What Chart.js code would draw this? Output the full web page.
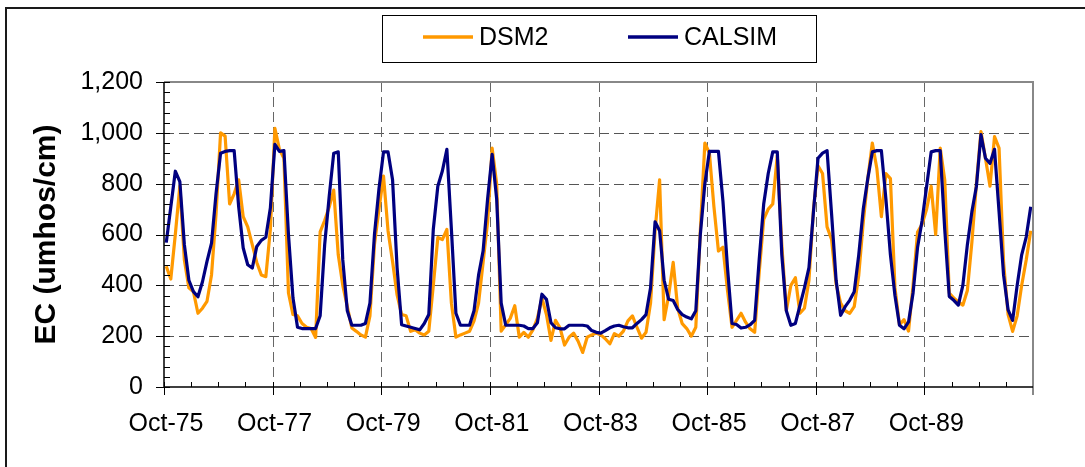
<!DOCTYPE html>
<html>
<head>
<meta charset="utf-8">
<script src="https://cdn.jsdelivr.net/npm/chart.js@4.4.1/dist/chart.umd.min.js"></script>
<style>
html,body{margin:0;padding:0;background:#fff;}
canvas{display:block;}
</style>
</head>
<body>
<canvas id="c" width="1085" height="467"></canvas>
<script>
// ---- data (monthly, Oct-75 .. Sep-91) ----
const tickLabels = ['Oct-75','Oct-77','Oct-79','Oct-81','Oct-83','Oct-85','Oct-87','Oct-89'];
const seriesNames = ['DSM2','CALSIM'];
const seriesColors = ['#FF9900','#000080'];
const yTickValues = [0,200,400,600,800,1000,1200];

const dsm2 = [
 475,425,600,790,500,390,375,290,310,337,441,681,
 1000,987,720,760,815,670,630,560,490,441,434,620,
 1018,935,900,370,285,280,250,235,230,195,610,655,
 708,775,520,400,316,232,219,205,196,280,560,700,
 830,615,494,362,285,280,219,225,212,205,219,400,
 588,580,620,330,196,205,212,219,260,330,490,650,
 940,800,220,245,270,320,196,215,196,225,270,350,
 285,183,262,233,165,196,212,180,136,196,205,212,
 205,190,170,210,200,220,260,280,235,192,215,330,
 615,815,265,360,490,310,249,230,200,235,615,960,
 920,710,535,550,380,235,262,290,255,229,215,450,
 660,700,720,910,560,300,400,430,290,310,420,700,
 870,840,630,580,405,330,300,290,316,440,650,820,
 960,860,670,840,820,390,245,265,220,400,610,640,
 700,790,600,940,815,370,350,335,322,380,570,800,
 1005,900,790,985,940,490,285,219,280,400,500,615
];
const calsim = [
 568,708,849,808,560,420,375,355,414,494,566,761,
 920,927,930,930,709,547,481,468,553,577,589,704,
 955,927,930,600,350,235,230,230,230,230,280,560,
 750,920,925,500,300,243,243,243,250,330,600,780,
 925,925,815,470,245,240,235,230,225,250,285,620,
 790,850,935,620,290,243,243,243,300,440,535,740,
 915,740,330,243,243,243,243,240,230,230,253,365,
 345,253,233,229,229,243,243,243,243,240,222,215,
 212,222,233,240,243,237,233,233,250,265,285,390,
 650,615,420,345,340,305,285,275,268,300,600,800,
 927,927,927,730,470,250,246,232,235,245,262,500,
 720,840,925,925,520,300,243,250,320,390,470,690,
 900,920,930,680,420,282,316,341,375,520,700,820,
 925,930,930,740,520,360,243,229,256,370,550,655,
 790,925,930,930,620,356,341,322,400,560,690,790,
 993,900,880,935,690,440,303,262,400,520,590,709
];

const FONT = "'Liberation Sans', Arial, Helvetica, sans-serif";
const nMonths = dsm2.length;
// each monthly value sits in the middle of its month slot
const toPoints = arr => arr.map((v, i) => ({x: i + 0.5, y: v}));

const decor = {
  id: 'decor',
  beforeDraw(chart) {
    const ctx = chart.ctx;
    ctx.save();
    ctx.fillStyle = '#fff';
    ctx.fillRect(0, 0, chart.width, chart.height);
    ctx.strokeStyle = '#1a1a1a';
    ctx.lineWidth = 2;
    ctx.beginPath();
    ctx.moveTo(6, chart.height);
    ctx.lineTo(6, 8);
    ctx.lineTo(chart.width, 8);
    ctx.stroke();
    ctx.restore();
  },
  beforeDatasetsDraw(chart) {
    const {ctx, chartArea: a, scales: {x, y}} = chart;
    ctx.save();
    ctx.lineWidth = 1;
    ctx.setLineDash([10, 5]);
    ctx.strokeStyle = '#555';
    yTickValues.forEach(v => {
      if (v === 0 || v === 1200) return;
      const py = Math.round(y.getPixelForValue(v)) + 0.5;
      ctx.beginPath(); ctx.moveTo(a.left, py); ctx.lineTo(a.right, py); ctx.stroke();
    });
    ctx.strokeStyle = '#666';
    for (let m = 24; m < nMonths; m += 24) {
      const px = Math.round(x.getPixelForValue(m)) + 0.5;
      ctx.beginPath(); ctx.moveTo(px, a.top); ctx.lineTo(px, a.bottom); ctx.stroke();
    }
    ctx.restore();
  },
  afterDatasetsDraw(chart) {
    const {ctx, chartArea: a, scales: {x, y}} = chart;
    ctx.save();
    // top / right frame of plot area
    ctx.strokeStyle = '#888';
    ctx.lineWidth = 2;
    ctx.beginPath();
    ctx.moveTo(a.left, a.top); ctx.lineTo(a.right, a.top); ctx.lineTo(a.right, a.bottom + 8);
    ctx.stroke();
    // axes
    ctx.strokeStyle = '#000';
    ctx.lineWidth = 1.5;
    ctx.beginPath();
    ctx.moveTo(a.left, a.top); ctx.lineTo(a.left, a.bottom); ctx.lineTo(a.right, a.bottom);
    ctx.stroke();
    ctx.lineWidth = 1;
    // y ticks: minor every 40 inside, major every 200 crossing
    for (let v = 0; v <= 1200; v += 40) {
      const py = Math.round(y.getPixelForValue(v)) + 0.5;
      const major = v % 200 === 0;
      ctx.beginPath();
      ctx.moveTo(a.left - (major ? 8 : 0), py); ctx.lineTo(a.left + 6, py);
      ctx.stroke();
    }
    // x ticks: minor every 6 months inside, major every 24 crossing
    for (let m = 0; m <= nMonths; m += 6) {
      const px = Math.round(x.getPixelForValue(m)) + 0.5;
      const major = m % 24 === 0;
      ctx.strokeStyle = (m === nMonths) ? '#888' : '#000';
      ctx.beginPath();
      ctx.moveTo(px, a.bottom - 5); ctx.lineTo(px, a.bottom + (major ? 8 : 0));
      ctx.stroke();
    }
    ctx.restore();
  },
  afterDraw(chart) {
    const {ctx, chartArea: a} = chart;
    ctx.save();
    // y axis title
    ctx.fillStyle = '#000';
    ctx.font = 'bold 30px ' + FONT;
    ctx.textAlign = 'center';
    ctx.textBaseline = 'middle';
    ctx.translate(47, (a.top + a.bottom) / 2);
    ctx.rotate(-Math.PI / 2);
    ctx.fillText('EC (umhos/cm)', 0, 0);
    ctx.restore();
    // legend
    ctx.save();
    ctx.strokeStyle = '#000';
    ctx.lineWidth = 1;
    ctx.strokeRect(382.5, 15.5, 434, 47);
    ctx.font = '25px ' + FONT;
    ctx.textBaseline = 'middle';
    ctx.fillStyle = '#000';
    const items = [{x: 423}, {x: 628}];
    chart.data.datasets.forEach((ds, i) => {
      const lx = items[i].x;
      ctx.strokeStyle = ds.borderColor;
      ctx.lineWidth = 3.5;
      ctx.beginPath(); ctx.moveTo(lx, 37); ctx.lineTo(lx + 50, 37); ctx.stroke();
      ctx.fillText(ds.label, lx + 56, 38);
    });
    ctx.restore();
  }
};

new Chart(document.getElementById('c'), {
  type: 'line',
  data: {
    datasets: [
      {label: seriesNames[0], data: toPoints(dsm2), borderColor: seriesColors[0], backgroundColor: seriesColors[0],
       borderWidth: 3.2, pointRadius: 0, tension: 0, borderJoinStyle: 'round', order: 1},
      {label: seriesNames[1], data: toPoints(calsim), borderColor: seriesColors[1], backgroundColor: seriesColors[1],
       borderWidth: 3.2, pointRadius: 0, tension: 0, borderJoinStyle: 'round', order: 0}
    ]
  },
  options: {
    responsive: false,
    animation: false,
    devicePixelRatio: 1,
    layout: {padding: {left: 0, right: 52, top: 82, bottom: 0}},
    plugins: {legend: {display: false}, tooltip: {enabled: false}},
    scales: {
      x: {
        type: 'linear', min: 0, max: nMonths,
        afterFit: s => { s.height = 80; },
        grid: {display: false, drawTicks: false},
        border: {display: false},
        afterBuildTicks: s => { s.ticks = []; for (let m = 0; m <= nMonths; m += 6) s.ticks.push({value: m}); },
        ticks: {
          autoSkip: false, maxRotation: 0, padding: 22, labelOffset: 2,
          color: '#000', font: {family: FONT, size: 25},
          callback: v => (v % 24 === 0 && tickLabels[v / 24]) ? tickLabels[v / 24] : ''
        }
      },
      y: {
        type: 'linear', min: 0, max: 1200,
        afterFit: s => { s.width = 164; },
        grid: {display: false, drawTicks: false},
        border: {display: false},
        afterBuildTicks: s => { s.ticks = yTickValues.map(v => ({value: v})); },
        ticks: {
          padding: 21, color: '#000', font: {family: FONT, size: 25},
          callback: v => v.toLocaleString('en-US')
        }
      }
    }
  },
  plugins: [decor]
});
</script>
</body>
</html>
